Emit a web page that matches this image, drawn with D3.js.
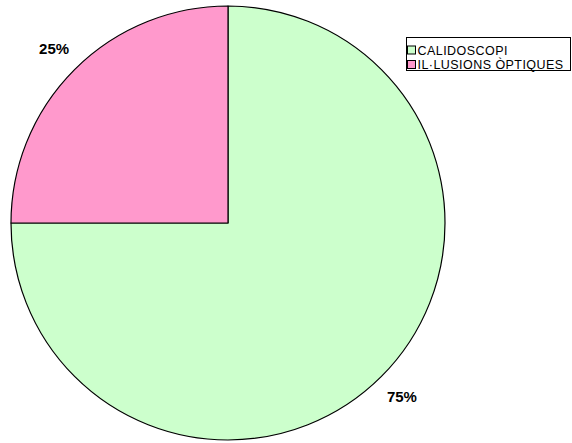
<!DOCTYPE html>
<html>
<head>
<meta charset="utf-8">
<script src="https://cdn.jsdelivr.net/npm/d3@7"></script>
<style>
  html, body { margin: 0; padding: 0; background: #ffffff; }
  svg { display: block; }
</style>
</head>
<body>
<svg id="chart" width="572" height="443"></svg>
<script>
// Chart data
const categories = ["CALIDOSCOPI", "IL·LUSIONS ÒPTIQUES"];
const values = [75, 25];
const valueLabels = ["75%", "25%"];
const colors = ["#ccffcc", "#ff99cc"];

const svg = d3.select("#chart");

const cx = 228, cy = 223, radius = 217;
const labelRadius = 246;

const pie = d3.pie().value(d => d).sort(null).startAngle(0).endAngle(2 * Math.PI);
const arcs = pie(values);
const arc = d3.arc().innerRadius(0).outerRadius(radius);
const labelArc = d3.arc().innerRadius(labelRadius).outerRadius(labelRadius);

const g = svg.append("g").attr("transform", `translate(${cx},${cy})`);

g.selectAll("path.slice")
  .data(arcs)
  .join("path")
  .attr("class", "slice")
  .attr("d", arc)
  .attr("fill", (d, i) => colors[i])
  .attr("stroke", "#000")
  .attr("stroke-width", 1.2)
  .attr("stroke-linejoin", "round");

// Percentage labels outside the pie, on each slice's bisector
g.selectAll("text.pct")
  .data(arcs)
  .join("text")
  .attr("class", "pct")
  .attr("transform", d => `translate(${labelArc.centroid(d)})`)
  .attr("dy", "0.36em")
  .attr("text-anchor", "middle")
  .attr("font-family", "Liberation Sans, Arial, sans-serif")
  .attr("font-weight", "bold")
  .attr("font-size", 15)
  .attr("fill", "#000")
  .text((d, i) => valueLabels[i]);

// Legend
const legend = svg.append("g").attr("transform", "translate(406.5,37.5)");
legend.append("rect")
  .attr("x", 0).attr("y", 0)
  .attr("width", 164).attr("height", 33)
  .attr("fill", "#fff")
  .attr("stroke", "#000")
  .attr("stroke-width", 1);

const rows = legend.selectAll("g.row")
  .data(categories)
  .join("g")
  .attr("class", "row")
  .attr("transform", (d, i) => `translate(1,${8.5 + i * 14.5})`);

rows.append("rect")
  .attr("x", 0).attr("y", 0)
  .attr("width", 8).attr("height", 8)
  .attr("fill", (d, i) => colors[i])
  .attr("stroke", "#000")
  .attr("stroke-width", 1);

rows.append("text")
  .attr("x", 10)
  .attr("y", 8.5)
  .attr("font-family", "Liberation Sans, Arial, sans-serif")
  .attr("font-size", 12.5)
  .attr("letter-spacing", 0.45)
  .attr("fill", "#000")
  .text(d => d);
</script>
</body>
</html>
